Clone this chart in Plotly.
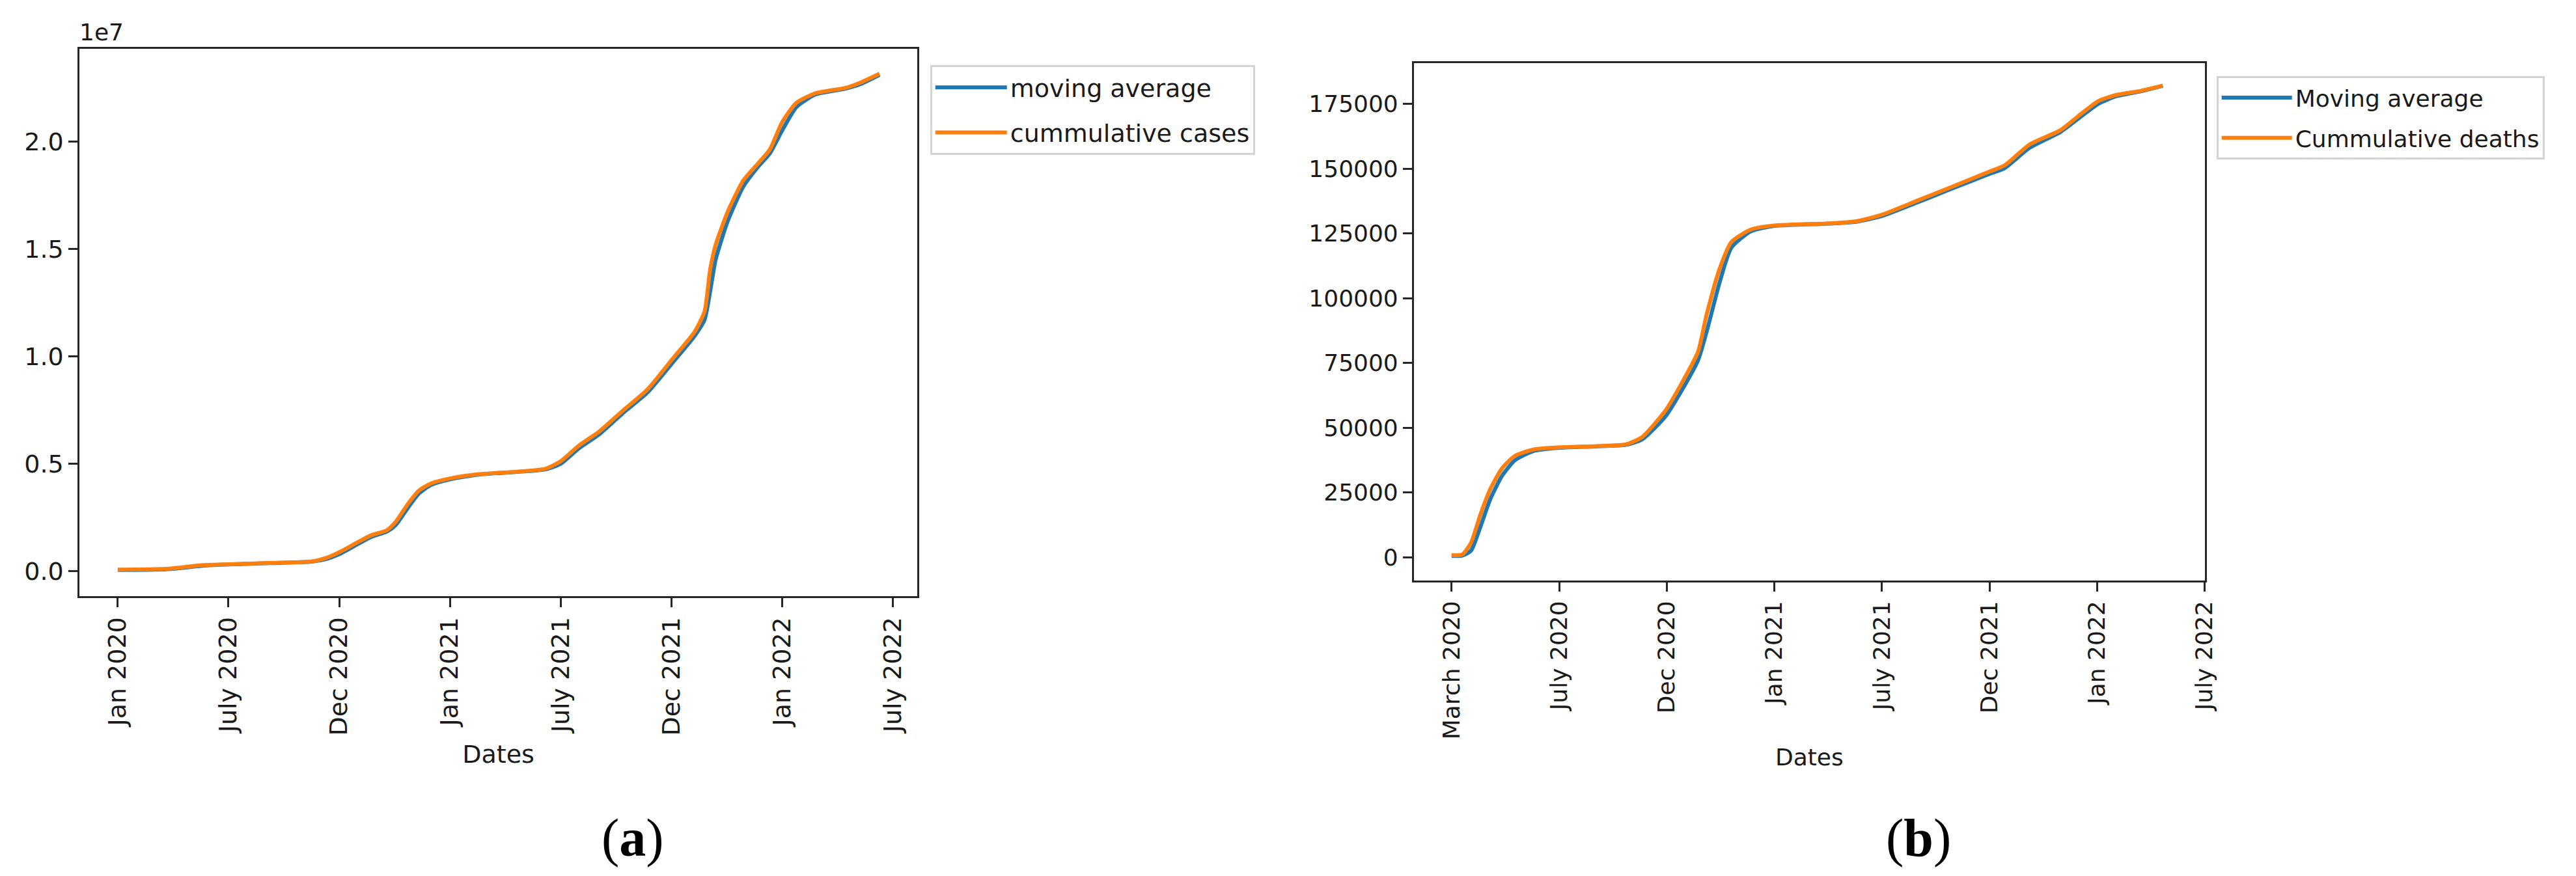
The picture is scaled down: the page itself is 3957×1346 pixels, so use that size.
import plotly.graph_objects as go

# ---------------- data ----------------
tick_pos = [0, 1, 2, 3, 4, 5, 6, 7]
cases_tick_labels = ["Jan 2020", "July 2020", "Dec 2020", "Jan 2021",
                     "July 2021", "Dec 2021", "Jan 2022", "July 2022"]
deaths_tick_labels = ["March 2020", "July 2020", "Dec 2020", "Jan 2021",
                      "July 2021", "Dec 2021", "Jan 2022", "July 2022"]

cases_y_ticks = [0, 5000000, 10000000, 15000000, 20000000]
cases_y_ticklabels = ["0.0", "0.5", "1.0", "1.5", "2.0"]
deaths_y_ticks = [0, 25000, 50000, 75000, 100000, 125000, 150000, 175000]

cases_x = [0.00, 0.45, 0.77, 1.01, 1.37, 1.75, 1.88, 2.01, 2.18, 2.29, 2.43,
           2.51, 2.62, 2.72, 2.83, 3.00, 3.26, 3.59, 3.86, 4.00, 4.16, 4.35,
           4.56, 4.78, 5.01, 5.21, 5.30, 5.35, 5.40, 5.51, 5.65, 5.78, 5.89,
           6.00, 6.13, 6.30, 6.57, 6.70, 6.88]
cases_cumulative = [80000, 120000, 290000, 330000, 390000, 460000, 620000,
                    910000, 1390000, 1680000, 1910000, 2300000, 3130000,
                    3760000, 4090000, 4320000, 4520000, 4630000, 4770000,
                    5120000, 5830000, 6510000, 7470000, 8440000, 9880000,
                    11140000, 12100000, 14030000, 15190000, 16740000,
                    18190000, 18960000, 19630000, 20890000, 21800000,
                    22240000, 22490000, 22720000, 23150000]
cases_moving_avg = [60000, 100000, 260000, 320000, 380000, 450000, 570000,
                    820000, 1300000, 1600000, 1850000, 2150000, 2950000,
                    3620000, 4020000, 4280000, 4500000, 4620000, 4740000,
                    5000000, 5700000, 6380000, 7350000, 8300000, 9700000,
                    10950000, 11700000, 13000000, 14500000, 16300000,
                    17900000, 18800000, 19450000, 20500000, 21600000,
                    22180000, 22450000, 22650000, 23100000]

deaths_x = [0.00, 0.10, 0.18, 0.27, 0.36, 0.47, 0.59, 0.76, 0.985, 1.34,
            1.62, 1.77, 1.99, 2.14, 2.29, 2.37, 2.49, 2.60, 2.78, 3.00, 3.52,
            3.76, 3.99, 4.33, 4.62, 5.00, 5.14, 5.37, 5.66, 5.83, 6.01, 6.18,
            6.41, 6.61]
deaths_cumulative = [800, 1100, 5600, 16800, 26400, 34400, 39200, 41600,
                     42400, 42900, 43600, 46400, 56800, 67300, 79300, 93700,
                     111300, 121700, 126500, 128100, 128900, 129700, 132100,
                     137700, 142500, 148900, 151300, 159300, 164900, 170500,
                     176100, 178500, 180100, 182100]
deaths_moving_avg = [500, 700, 2500, 12000, 22500, 31500, 37500, 41000,
                     42200, 42800, 43400, 45500, 54500, 64500, 76000, 87000,
                     106000, 119500, 125800, 127900, 128800, 129500, 131600,
                     137000, 141800, 148000, 150200, 158000, 164200, 169500,
                     175000, 178000, 179900, 182000]

# ---------------- style ----------------
BLUE = "#1f77b4"
ORANGE = "#ff7f0e"
AXC = "#262626"
W, H = 3957, 1346

fig = go.Figure()

def line(c):
    return dict(color=c, width=6, shape="spline", smoothing=0.6)

fig.add_trace(go.Scatter(x=cases_x, y=cases_moving_avg, mode="lines",
                         name="moving average", line=line(BLUE),
                         xaxis="x", yaxis="y", legend="legend", legendgroup="a1"))
fig.add_trace(go.Scatter(x=cases_x, y=cases_cumulative, mode="lines",
                         name="cummulative cases", line=line(ORANGE),
                         xaxis="x", yaxis="y", legend="legend", legendgroup="a2"))
fig.add_trace(go.Scatter(x=deaths_x, y=deaths_moving_avg, mode="lines",
                         name="Moving average", line=line(BLUE),
                         xaxis="x2", yaxis="y2", legend="legend2", legendgroup="b1"))
fig.add_trace(go.Scatter(x=deaths_x, y=deaths_cumulative, mode="lines",
                         name="Cummulative deaths", line=line(ORANGE),
                         xaxis="x2", yaxis="y2", legend="legend2", legendgroup="b2"))

common = dict(showline=True, linecolor=AXC, linewidth=3, mirror=True,
              ticks="outside", ticklen=14, tickwidth=3, tickcolor=AXC,
              showgrid=False, zeroline=False)

fig.update_layout(
    width=W, height=H,
    margin=dict(l=0, r=0, t=0, b=0),
    paper_bgcolor="white", plot_bgcolor="white",
    font=dict(family="DejaVu Sans", color="#1a1a1a"),
    xaxis=dict(domain=[123 / W, 1416 / W], anchor="y", range=[-0.344, 7.22],
               tickvals=tick_pos, ticktext=cases_tick_labels, tickangle=-90,
               tickfont=dict(size=38),
               title=dict(text="Dates", font=dict(size=38), standoff=16),
               **common),
    yaxis=dict(domain=[1 - 916 / H, 1 - 75 / H], anchor="x",
               range=[-1155000, 24310000], tickvals=cases_y_ticks,
               ticktext=cases_y_ticklabels, tickfont=dict(size=38), **common),
    xaxis2=dict(domain=[2183 / W, 3404 / W], anchor="y2", range=[-0.35, 7.0],
                tickvals=tick_pos, ticktext=deaths_tick_labels, tickangle=-90,
                tickfont=dict(size=36),
                title=dict(text="Dates", font=dict(size=36), standoff=16),
                **common),
    yaxis2=dict(domain=[1 - 892 / H, 1 - 97 / H], anchor="x2",
                range=[-8968, 190740], tickvals=deaths_y_ticks,
                tickformat="d", tickfont=dict(size=36), **common),
    legend=dict(x=1436 / W, y=1 - 100 / H, xanchor="left", yanchor="top",
                bordercolor="#d4d4d4", borderwidth=3, bgcolor="white",
                font=dict(size=38), tracegroupgap=17, itemwidth=110),
    legend2=dict(x=3422 / W, y=1 - 117 / H, xanchor="left", yanchor="top",
                 bordercolor="#d4d4d4", borderwidth=3, bgcolor="white",
                 font=dict(size=36), tracegroupgap=12, itemwidth=108),
    annotations=[
        dict(text="1e7", x=157 / W, y=1 - 50 / H, xref="paper", yref="paper",
             xanchor="center", yanchor="middle",
             showarrow=False, font=dict(size=36)),
        dict(text="(<b>a</b>)", x=977 / W, y=1 - 1287 / H, xref="paper",
             yref="paper", xanchor="center", yanchor="middle", showarrow=False,
             font=dict(family="Liberation Serif", size=82, color="black")),
        dict(text="(<b>b</b>)", x=2962 / W, y=1 - 1287 / H, xref="paper",
             yref="paper", xanchor="center", yanchor="middle", showarrow=False,
             font=dict(family="Liberation Serif", size=82, color="black")),
    ],
)

fig.write_html("out.html", config={"displayModeBar": False},
               post_script="document.documentElement.style.margin='0';document.body.style.margin='0';document.documentElement.style.overflow='hidden';document.body.style.overflow='hidden';")
